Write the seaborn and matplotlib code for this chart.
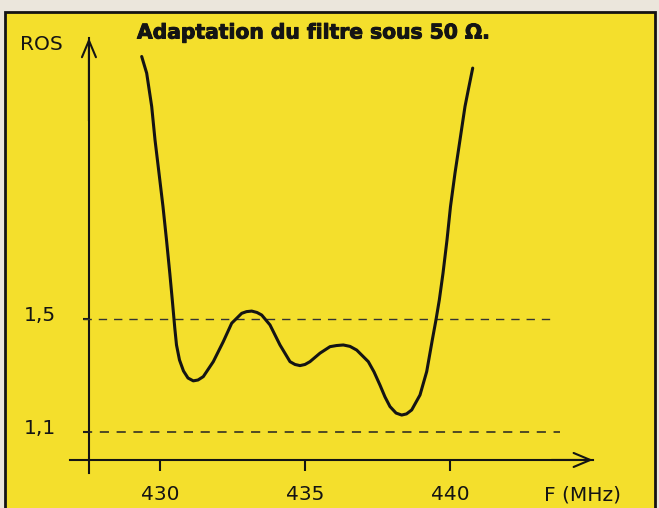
import matplotlib
matplotlib.use("Agg")
import matplotlib.pyplot as plt
import matplotlib.patheffects as pe
from matplotlib.patches import Rectangle
from matplotlib.transforms import ScaledTranslation
import seaborn as sns
import pandas as pd

# Measured standing-wave ratio (ROS) across the filter passband
freq_mhz = [429.369, 429.541, 429.714, 429.828, 429.966, 430.103, 430.224,
            430.338, 430.424, 430.510, 430.569, 430.672, 430.810, 430.966,
            431.148, 431.310, 431.493, 431.838, 432.183, 432.472, 432.817,
            432.983, 433.162, 433.345, 433.507, 433.793, 434.138, 434.483,
            434.655, 434.828, 435.000, 435.172, 435.517, 435.862, 436.086,
            436.321, 436.552, 436.783, 437.183, 437.379, 437.586, 437.759,
            437.931, 438.140, 438.334, 438.500, 438.679, 438.966, 439.197,
            439.390, 439.517, 439.631, 439.759, 439.897, 440.017, 440.172,
            440.345, 440.517, 440.631, 440.783]
ros = [2.428, 2.369, 2.251, 2.133, 2.015, 1.897, 1.779,
       1.661, 1.566, 1.467, 1.407, 1.354, 1.315, 1.290,
       1.280, 1.283, 1.295, 1.348, 1.419, 1.484, 1.519,
       1.525, 1.527, 1.522, 1.513, 1.478, 1.407, 1.348,
       1.338, 1.334, 1.338, 1.348, 1.378, 1.401, 1.405,
       1.407, 1.402, 1.389, 1.348, 1.312, 1.265, 1.223,
       1.189, 1.166, 1.159, 1.163, 1.177, 1.230, 1.313,
       1.425, 1.496, 1.566, 1.661, 1.779, 1.897, 2.015,
       2.133, 2.251, 2.310, 2.387]

x_ticks = [430, 435, 440]
x_tick_labels = ["430", "435", "440"]
ref_levels = [1.1, 1.5]
ref_labels = ["1,1", "1,5"]

title = "Adaptation du filtre sous 50 \u03a9."
x_label = "F (MHz)"
y_label = "ROS"

YELLOW = "#f4df2c"
PAPER = "#ebe6dc"
INK = "#141414"

sns.set_theme(style="white")
plt.rcParams["font.family"] = ["DejaVu Sans"]

W, H = 659, 508
fig = plt.figure(figsize=(W / 100, H / 100), dpi=100, facecolor=PAPER)

# Yellow panel with its black frame (open at the bottom edge)
fig.patches.append(Rectangle((4.5 / W, -0.05), 650 / W, 1.05 - 12.5 / H,
                             transform=fig.transFigure, facecolor=YELLOW,
                             edgecolor=INK, linewidth=2.0, zorder=-1))

ax = fig.add_axes([0, 0, 1, 1])
ax.set_facecolor("none")

# Data limits so that the plot spans the whole panel
x_lo, x_hi = 424.483, 447.207
y_lo, y_hi = 0.830, 2.628
ax.set_xlim(x_lo, x_hi)
ax.set_ylim(y_lo, y_hi)

x_axis_at = 427.55   # position of the ROS axis
y_axis_at = 1.0      # ROS = 1 baseline

df = pd.DataFrame({"F": freq_mhz, "ROS": ros})
sns.lineplot(data=df, x="F", y="ROS", ax=ax, color=INK, linewidth=2.2,
             sort=False, estimator=None, zorder=4)
ax.lines[-1].set_solid_capstyle("round")
ax.lines[-1].set_solid_joinstyle("round")

# Dashed reference levels
ax.hlines(ref_levels[1], 427.35, 443.55, colors="#333333",
          linestyles=(0, (6, 5)), linewidth=1.0, zorder=3)
ax.hlines(ref_levels[0], 427.35, 443.79, colors="#222222",
          linestyles=(0, (6, 5)), linewidth=1.1, zorder=3)

# Axis lines
for side in ("top", "right"):
    ax.spines[side].set_visible(False)
ax.spines["left"].set_position(("data", x_axis_at))
ax.spines["left"].set_bounds(0.954, 2.494)
ax.spines["bottom"].set_position(("data", y_axis_at))
ax.spines["bottom"].set_bounds(426.90, 444.93)
for side in ("left", "bottom"):
    ax.spines[side].set_color(INK)
    ax.spines[side].set_linewidth(1.5)

# Arrow heads
arrow = dict(arrowstyle="->,head_length=1.0,head_width=0.42", lw=1.5,
             color=INK, shrinkA=0, shrinkB=0)
ax.annotate("", xy=(x_axis_at, 2.494), xytext=(x_axis_at, 2.2),
            arrowprops=arrow, zorder=5)
ax.annotate("", xy=(444.93, y_axis_at), xytext=(443.5, y_axis_at),
            arrowprops=arrow, zorder=5)

# Ticks
ax.set_xticks(x_ticks, labels=x_tick_labels)
ax.set_yticks(ref_levels, labels=ref_labels)
ax.tick_params(axis="x", direction="out", length=8, width=1.5, color=INK,
               pad=10, labelsize=14.5, labelcolor=INK, bottom=True)
ax.tick_params(axis="y", direction="out", length=4.5, width=1.5, color=INK,
               pad=20, labelsize=14.5, labelcolor=INK, left=True)
for lab in ax.get_yticklabels():
    lab.set_horizontalalignment("center")
    lab.set_transform(lab.get_transform() +
                      ScaledTranslation(-11 / 72, 3.5 / 72,
                                        fig.dpi_scale_trans))

# Axis titles
ax.set_ylabel(y_label, rotation=0, fontsize=14.5, color=INK,
              ha="center", va="center")
ax.yaxis.set_label_coords(41 / W, 1 - 44 / H)
ax.set_xlabel(x_label, fontsize=14.5, color=INK, ha="center", va="center")
ax.xaxis.set_label_coords(583 / W, 1 - 495 / H)

ax.text(137 / W, 1 - 33 / H, title, transform=ax.transAxes, ha="left",
        va="center", fontsize=14.6, fontweight="bold", color=INK,
        path_effects=[pe.withStroke(linewidth=0.7, foreground=INK)])

fig.savefig("out.png", dpi=100, facecolor=PAPER)
